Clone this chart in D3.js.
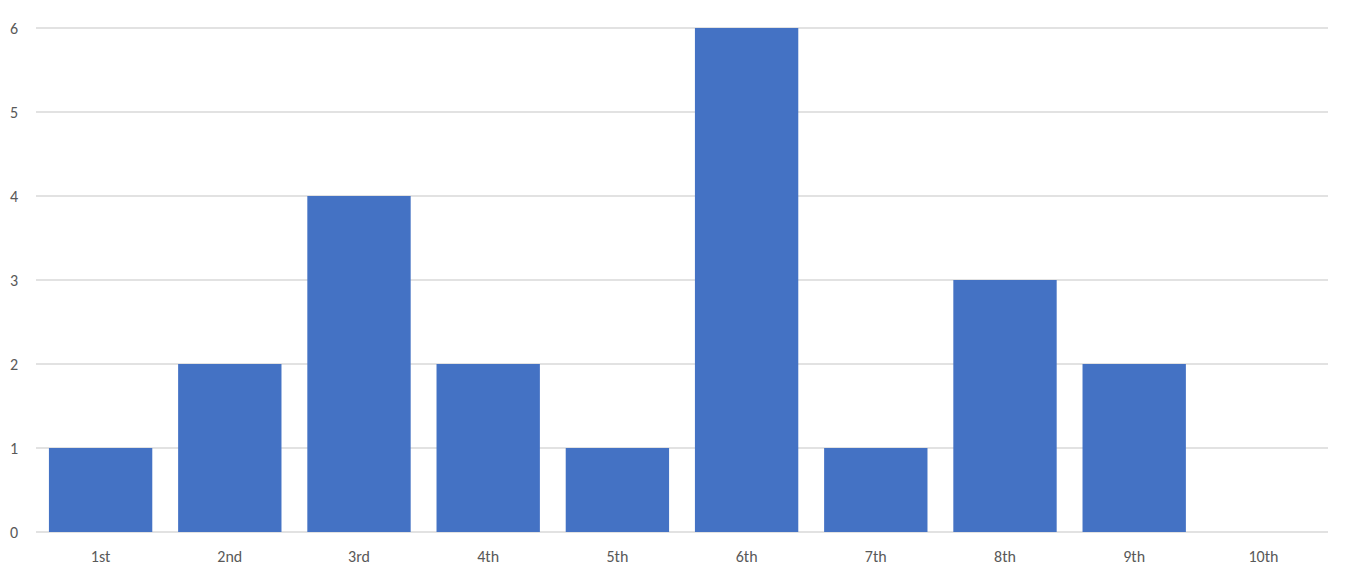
<!DOCTYPE html>
<html><head><meta charset="utf-8">
<script src="https://cdn.jsdelivr.net/npm/d3@7"></script>
<style>body{margin:0;background:#fff;} text{font-family:Calibri,Carlito,"Open Sans","Liberation Sans",sans-serif;}</style>
</head><body><svg id="c" width="1346" height="574"></svg>
<script>
const categories = ["1st","2nd","3rd","4th","5th","6th","7th","8th","9th","10th"];
const values = [1,2,4,2,1,6,1,3,2,0];
const yTicks = [0,1,2,3,4,5,6];

const svg = d3.select("#c");
const plotLeft = 36, plotRight = 1328, plotTop = 28, plotBottom = 532;
const x = d3.scaleBand().domain(categories).range([plotLeft, plotRight]).paddingInner(0.2).paddingOuter(0.1);
const y = d3.scaleLinear().domain([0, 6]).range([plotBottom, plotTop]);

svg.append("g").selectAll("line").data(yTicks).join("line")
  .attr("x1", plotLeft).attr("x2", plotRight)
  .attr("y1", d => y(d)).attr("y2", d => y(d))
  .attr("stroke", "#d9d9d9").attr("stroke-width", 1.3);

svg.append("g").selectAll("text").data(yTicks).join("text")
  .attr("x", 14).attr("y", d => y(d)).attr("dy", "0.35em")
  .attr("text-anchor", "middle").attr("font-size", 16).attr("fill", "#595959")
  .text(d => d);

svg.append("g").selectAll("rect").data(values).join("rect")
  .attr("x", (d, i) => x(categories[i]))
  .attr("width", x.bandwidth())
  .attr("y", d => y(d))
  .attr("height", d => y(0) - y(d))
  .attr("fill", "#4472C4");

svg.append("g").selectAll("text").data(categories).join("text")
  .attr("x", d => x(d) + x.bandwidth() / 2).attr("y", 556).attr("dy", "0.35em")
  .attr("text-anchor", "middle").attr("font-size", 16).attr("fill", "#595959")
  .text(d => d);
</script></body></html>
